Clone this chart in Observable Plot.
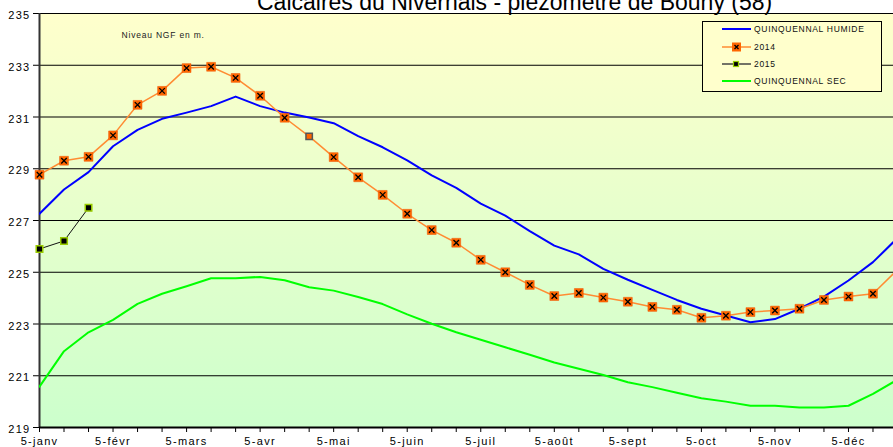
<!DOCTYPE html>
<html><head><meta charset="utf-8">
<script src="https://cdn.jsdelivr.net/npm/d3@7"></script>
<script src="https://cdn.jsdelivr.net/npm/@observablehq/plot@0.6"></script>
<style>
body{margin:0;background:#fff;font-family:"Liberation Sans",Arial,sans-serif;}
#wrap{position:relative;width:893px;height:447px;overflow:hidden;}
#wrap svg{position:absolute;left:0;top:0;}
#titre{position:absolute;left:257px;top:-9.5px;font-size:23px;line-height:23px;white-space:nowrap;color:#000;}
#legende{position:absolute;left:702px;top:21px;width:180px;height:71px;border:1px solid #000;background:#ffffcc;box-sizing:border-box;}
.item{position:absolute;left:19px;height:12px;display:flex;align-items:center;font-size:8.5px;letter-spacing:0.7px;color:#111;white-space:nowrap;}
.item svg{position:static !important;margin-right:3px;}
</style></head>
<body>
<div id="wrap">
  <div id="titre">Calcaires du Nivernais - piézomètre de Bouhy (58)</div>
  <div id="legende"></div>
</div>
<script>
// Catégories : 5, 15 et 25 de chaque mois
const mois = ["5-janv","5-févr","5-mars","5-avr","5-mai","5-juin","5-juil","5-août","5-sept","5-oct","5-nov","5-déc"];
const jours = [5, 15, 25];
const yTicks = [219, 221, 223, 225, 227, 229, 231, 233, 235];
const nomsSeries = ["QUINQUENNAL HUMIDE", "2014", "2015", "QUINQUENNAL SEC"];

const humide = [227.26, 228.2, 228.87, 229.87, 230.5, 230.93, 231.17, 231.42, 231.79, 231.42, 231.17, 230.98,
  230.76, 230.26, 229.83, 229.32, 228.74, 228.26, 227.65, 227.19, 226.59, 226.03, 225.69, 225.13,
  224.71, 224.32, 223.93, 223.59, 223.33, 223.07, 223.19, 223.59, 224.06, 224.68, 225.39, 226.32];
const a2014 = [228.77, 229.31, 229.46, 230.29, 231.47, 232.01, 232.89, 232.94, 232.51, 231.82, 230.97, 230.25,
  229.45, 228.67, 227.99, 227.26, 226.63, 226.14, 225.48, 225.0, 224.51, 224.08, 224.2, 224.02,
  223.86, 223.66, 223.55, 223.24, 223.32, 223.46, 223.52, 223.59, 223.93, 224.06, 224.17, 225.1];
const a2015 = [225.9, 226.21, 227.49];
const sec = [220.58, 221.95, 222.68, 223.16, 223.78, 224.17, 224.46, 224.77, 224.77, 224.82, 224.69, 224.42,
  224.29, 224.04, 223.77, 223.37, 223.01, 222.68, 222.39, 222.1, 221.81, 221.51, 221.27, 221.03,
  220.75, 220.56, 220.34, 220.13, 220.0, 219.84, 219.84, 219.77, 219.77, 219.84, 220.3, 220.85];
const pointsSansCroix = [11]; // point 2014 affiché sans croix

const categories = mois.flatMap(m => jours.map(j => m.replace("5", String(j))));
const data = categories.map((c, i) => ({i, c, humide: humide[i], a2014: a2014[i], sec: sec[i]}));
const data15 = a2015.map((v, i) => ({i, v}));
// le dernier point (25-déc) tombe hors du cadre visible : seule la ligne y arrive
const visibles = data.filter(d => d.i < categories.length - 1);
const d14x = visibles.filter(d => !pointsSansCroix.includes(d.i));
const d14s = visibles.filter(d => pointsSansCroix.includes(d.i));

const chart = Plot.plot({
  width: 893, height: 447,
  marginLeft: 39, marginRight: 0, marginTop: 13, marginBottom: 20,
  style: {fontFamily: '"Liberation Sans", Arial, sans-serif', fontSize: "11px", background: "transparent", letterSpacing: "1.3px", color: "#000"},
  x: {type: "linear", domain: [0, categories.length - 1], range: [39, 897], ticks: d3.range(categories.length),
      tickFormat: i => i % 3 === 0 ? mois[i / 3] : "", tickSize: 5, tickPadding: 5, label: null},
  y: {domain: [219, 235], ticks: yTicks, tickSize: 6, tickPadding: 3, tickFormat: d => String(d), label: null},
  marks: [
    Plot.frame({fill: "#ffffcc", stroke: null}),
    Plot.ruleY(yTicks.slice(1), {stroke: "#000", strokeWidth: 1.2}),
    Plot.ruleX([0], {stroke: "#333", strokeWidth: 2}),
    Plot.ruleY([219], {stroke: "#000", strokeWidth: 2}),
    Plot.text(["Niveau NGF en m."], {frameAnchor: "top-left", dx: 82, dy: 18, fontSize: 8.5, textAnchor: "start", fill: "#222"}),
    Plot.line(data, {x: "i", y: "sec", stroke: "#00ff00", strokeWidth: 2, clip: true}),
    Plot.line(data, {x: "i", y: "humide", stroke: "#0000ff", strokeWidth: 2, clip: true}),
    Plot.line(data, {x: "i", y: "a2014", stroke: "#ff8c33", strokeWidth: 1.5, clip: true}),
    Plot.line(data15, {x: "i", y: "v", stroke: "#111", strokeWidth: 1}),
    Plot.dot(d14x, {x: "i", y: "a2014", symbol: "square", r: 5, fill: "#ff6600", stroke: "#ee5500", strokeWidth: 0.5}),
    Plot.dot(d14x, {x: "i", y: "a2014", symbol: "times", r: 2.6, stroke: "#000", strokeWidth: 1.3}),
    Plot.dot(d14s, {x: "i", y: "a2014", symbol: "square", r: 3.6, fill: "#ff6600", stroke: "#555", strokeWidth: 1.5}),
    Plot.dot(data15, {x: "i", y: "v", symbol: "square", r: 3.7, fill: "#000", stroke: "#99cc00", strokeWidth: 1.5})
  ]
});

const svgEl = chart.tagName.toLowerCase() === "svg" ? chart : chart.querySelector("svg");
const svg = d3.select(svgEl);
const defs = svg.insert("defs", ":first-child");
const grad = defs.append("linearGradient").attr("id", "fond").attr("x1", 0).attr("y1", 0).attr("x2", 0).attr("y2", 1);
grad.append("stop").attr("offset", "0%").attr("stop-color", "#ffffcc");
grad.append("stop").attr("offset", "100%").attr("stop-color", "#ccffcc");
svg.selectAll('[aria-label="frame"], [aria-label="frame"] rect').attr("fill", "url(#fond)");
svg.selectAll('g[aria-label="text"]').style("letter-spacing", "0.8px");
svg.selectAll('[aria-label="y-axis tick label"] text, [aria-label="y-axis"] text').attr("dy", "2");

const wrap = document.getElementById("wrap");
wrap.insertBefore(chart, wrap.firstChild);

// Légende
const leg = d3.select("#legende");
const rowsY = [1, 18.5, 36, 53];
nomsSeries.forEach((nom, k) => {
  const row = leg.append("div").attr("class", "item").style("top", rowsY[k] + "px");
  const s = row.append("svg").attr("width", 29).attr("height", 12);
  const color = ["#0000ff", "#ff8c33", "#444", "#00ff00"][k];
  s.append("line").attr("x1", 0).attr("x2", 29).attr("y1", 6).attr("y2", 6).attr("stroke", color).attr("stroke-width", k === 1 || k === 2 ? 1.5 : 2);
  if (k === 1) {
    s.append("rect").attr("x", 10).attr("y", 1.5).attr("width", 9).attr("height", 9).attr("fill", "#ff6600");
    s.append("path").attr("d", "M12.5,4L16.5,8M16.5,4L12.5,8").attr("stroke", "#000").attr("stroke-width", 1.3);
  }
  if (k === 2) {
    s.append("rect").attr("x", 11.5).attr("y", 3.5).attr("width", 5).attr("height", 5).attr("fill", "#000").attr("stroke", "#99cc00").attr("stroke-width", 1.2);
  }
  row.append("span").text(nom);
});
</script>
</body></html>
